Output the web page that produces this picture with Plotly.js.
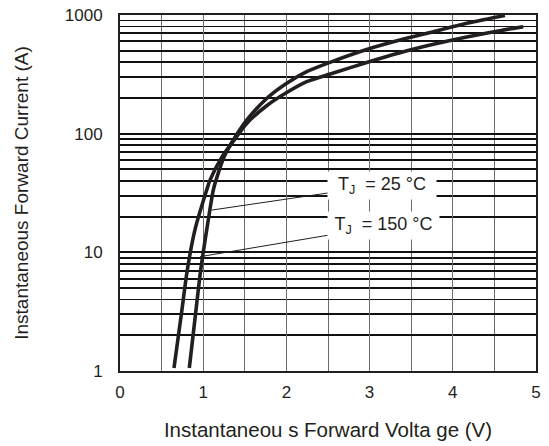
<!DOCTYPE html>
<html>
<head>
<meta charset="utf-8">
<script src="https://cdn.plot.ly/plotly-3.0.1.min.js"></script>
<style>html,body{margin:0;padding:0;background:#fff;}#chart{width:549px;height:446px;}</style>
</head>
<body>
<div id="chart"></div>
<script>
// Forward characteristic, T_J = 25 °C
const v25 = [0.833, 0.90, 0.97, 1.042, 1.121, 1.154, 1.25, 1.362, 1.523, 1.763, 2.004, 2.244, 2.564, 2.965, 3.365, 3.766, 4.167, 4.627];
const i25 = [1.06, 2.7, 7.1, 15.4, 33.5, 40.6, 63.7, 88.4, 130, 198, 266, 333, 409, 512, 615, 723, 851, 990];
// Forward characteristic, T_J = 150 °C
const v150 = [0.649, 0.737, 0.809, 0.90, 1.042, 1.082, 1.226, 1.36, 1.523, 1.763, 2.004, 2.244, 2.564, 2.965, 3.365, 3.766, 4.167, 4.567, 4.847];
const i150 = [1.06, 3.0, 7.1, 15.4, 33.5, 40.6, 63.7, 86, 122, 172, 222, 274, 324, 398, 481, 566, 653, 738, 797];

const xTicks = [0, 1, 2, 3, 4, 5];
const xTickLabels = ['0', '1', '2', '3', '4', '5'];
const xGrid = [0.5, 1.5, 2.5, 3.5, 4.5];
const yTicks = [1, 10, 100, 1000];
const yTickLabels = ['1', '10', '100', '1000'];
const yMinorGrid = [];
[1, 10, 100].forEach(d => { for (let k = 2; k <= 9; k++) yMinorGrid.push(d * k); });

const labels = [
  {text: 'T<sub>J</sub>  = 25 °C', tipV: 1.102, tipI: 22.7, txtV: 3.149, txtI: 36.9, w: 104},
  {text: 'T<sub>J</sub>  = 150 °C', tipV: 0.962, tipI: 9.19, txtV: 3.167, txtI: 16.7, w: 107}
];

const ink = '#231f20';
const lineStyle = {color: ink, width: 3.6, shape: 'spline', smoothing: 0.8};

const traces = [
  {x: v25, y: i25, mode: 'lines', line: lineStyle, hoverinfo: 'skip', showlegend: false},
  {x: v150, y: i150, mode: 'lines', line: lineStyle, hoverinfo: 'skip', showlegend: false}
];

const layout = {
  width: 549, height: 446,
  margin: {l: 120, r: 13, t: 15, b: 75},
  paper_bgcolor: '#fff', plot_bgcolor: '#fff',
  font: {family: 'Liberation Sans, Arial, sans-serif', size: 17, color: ink},
  showlegend: false,
  xaxis: {
    range: [0, 5], tickvals: xTicks, ticktext: xTickLabels,
    showgrid: true, gridcolor: '#6d6d6d', gridwidth: 1,
    minor: {tickvals: xGrid, showgrid: true, gridcolor: '#6d6d6d', gridwidth: 1, ticks: ''},
    ticks: '', showline: true, linecolor: ink, linewidth: 2, mirror: true, zeroline: false,
    ticklabelstandoff: 5,
    tickfont: {size: 17, color: ink},
    title: {text: 'Instantaneou s Forward Volta ge (V)', font: {size: 20.5, color: ink}, standoff: 21}
  },
  yaxis: {
    type: 'log', range: [0, 3], tickvals: yTicks, ticktext: yTickLabels,
    showgrid: true, gridcolor: '#111', gridwidth: 1.8,
    minor: {tickvals: yMinorGrid, showgrid: true, gridcolor: '#111', gridwidth: 1.8, ticks: ''},
    ticks: '', showline: true, linecolor: ink, linewidth: 2, mirror: true, zeroline: false,
    ticklabelstandoff: 12,
    tickfont: {size: 17, color: ink},
    title: {text: 'Instantaneous Forward Current (A)', font: {size: 19, color: ink}, standoff: 31}
  },
  annotations: labels.map(l => ({
    x: l.tipV, y: Math.log10(l.tipI), xref: 'x', yref: 'y',
    ax: l.txtV, ay: Math.log10(l.txtI), axref: 'x', ayref: 'y',
    text: l.text, showarrow: true, arrowhead: 0, arrowwidth: 1, arrowcolor: ink,
    bgcolor: '#fff', borderpad: 2, width: l.w, font: {size: 18, color: ink}, standoff: 0, startstandoff: 0
  }))
};

Plotly.newPlot('chart', traces, layout, {displayModeBar: false, staticPlot: true});
</script>
</body>
</html>
